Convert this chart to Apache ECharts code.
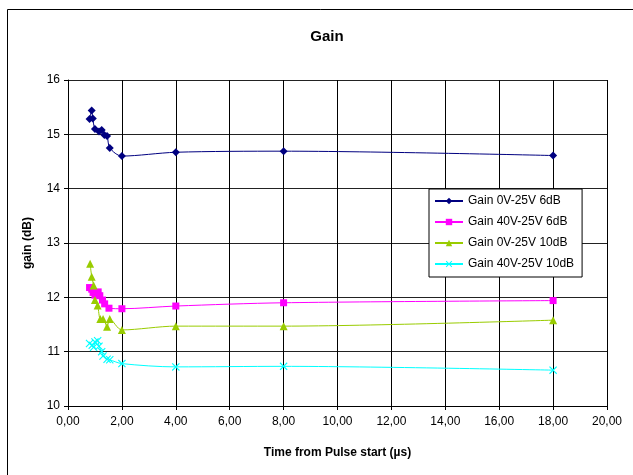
<!DOCTYPE html>
<html>
<head>
<meta charset="utf-8">
<script src="https://cdn.jsdelivr.net/npm/echarts@6/dist/echarts.min.js"></script>
<style>
html,body{margin:0;padding:0;background:#fff;}
#c{width:633px;height:475px;}
</style>
</head>
<body>
<div id="c"></div>
<script>
var seriesNames = ['Gain 0V-25V 6dB', 'Gain 40V-25V 6dB', 'Gain 0V-25V 10dB', 'Gain 40V-25V 10dB'];

var time1 = [0.8, 0.88, 0.92, 1.0, 1.15, 1.25, 1.35, 1.45, 1.55, 2, 4, 8, 18];
var gain1 = [15.28, 15.44, 15.29, 15.1, 15.05, 15.08, 14.99, 14.97, 14.75, 14.6, 14.67, 14.69, 14.61];

var time2 = [0.8, 0.88, 0.93, 1.0, 1.12, 1.18, 1.28, 1.36, 1.52, 2, 4, 8, 18];
var gain2 = [12.18, 12.15, 12.09, 12.04, 12.1, 12.03, 11.95, 11.88, 11.8, 11.79, 11.84, 11.9, 11.94];

var time3 = [0.82, 0.88, 0.95, 1.0, 1.1, 1.2, 1.3, 1.45, 1.55, 2, 4, 8, 18];
var gain3 = [12.62, 12.38, 12.22, 11.95, 11.85, 11.6, 11.6, 11.46, 11.6, 11.4, 11.47, 11.47, 11.58];

var time4 = [0.8, 0.9, 0.95, 1.0, 1.1, 1.15, 1.25, 1.3, 1.45, 1.55, 2, 4, 8, 18];
var gain4 = [11.15, 11.12, 11.08, 11.18, 11.2, 11.1, 11.0, 10.92, 10.86, 10.85, 10.78, 10.72, 10.73, 10.66];

var xTicks = {min: 0, max: 20, interval: 2};
var yTicks = {min: 10, max: 16, interval: 1};

function pairs(xs, ys) { return xs.map(function (x, i) { return [x, ys[i]]; }); }

var colors = ['#000080', '#FF00FF', '#99CC00', '#00FFFF'];
var symbols = ['diamond', 'rect', 'triangle',
  'path://M0,1L1,0L5,4L9,0L10,1L6,5L10,9L9,10L5,6L1,10L0,9L4,5Z'];
var sizes = [8, 7, 8, 8];
var datasets = [pairs(time1, gain1), pairs(time2, gain2), pairs(time3, gain3), pairs(time4, gain4)];

var font = 'Liberation Sans, Arial, sans-serif';
var chart = echarts.init(document.getElementById('c'), null, {renderer: 'canvas'});
chart.setOption({
  backgroundColor: '#fff',
  animation: false,
  graphic: [{
    type: 'rect', left: 5, top: 7, silent: true,
    shape: {width: 660, height: 500},
    style: {fill: 'none', stroke: '#000', lineWidth: 1}
  }],
  title: {
    text: 'Gain', left: 322, top: 24, textAlign: 'center',
    textStyle: {fontFamily: font, fontSize: 15, fontWeight: 'bold', color: '#000'}
  },
  legend: {
    orient: 'vertical', left: 429, top: 189,
    itemWidth: 28, itemHeight: 8, itemGap: 9,
    padding: [6, 8, 7, 5],
    borderColor: '#000', borderWidth: 1, backgroundColor: '#fff',
    textStyle: {fontFamily: font, fontSize: 12, color: '#000'},
    data: seriesNames
  },
  grid: {left: 68, right: 26, top: 80, bottom: 69, containLabel: false},
  xAxis: {
    type: 'value', min: xTicks.min, max: xTicks.max, interval: xTicks.interval,
    name: 'Time from Pulse start (\u00b5s)', nameLocation: 'middle', nameGap: 41,
    nameTextStyle: {fontFamily: font, fontSize: 12, fontWeight: 'bold', color: '#000'},
    axisLine: {show: true, lineStyle: {color: '#000'}},
    axisTick: {show: true, length: 4, lineStyle: {color: '#000'}},
    axisLabel: {fontFamily: font, fontSize: 12, color: '#000', margin: 10,
      formatter: function (v) { return v.toFixed(2).replace('.', ','); }},
    splitLine: {show: true, lineStyle: {color: '#000', width: 1}}
  },
  yAxis: {
    type: 'value', min: yTicks.min, max: yTicks.max, interval: yTicks.interval,
    name: 'gain (dB)', nameLocation: 'middle', nameGap: 34, nameRotate: 90,
    nameTextStyle: {fontFamily: font, fontSize: 12, fontWeight: 'bold', color: '#000'},
    axisLine: {show: true, lineStyle: {color: '#000'}},
    axisTick: {show: true, length: 4, lineStyle: {color: '#000'}},
    axisLabel: {fontFamily: font, fontSize: 12, color: '#000', margin: 8},
    splitLine: {show: true, lineStyle: {color: '#222', width: 1}}
  },
  series: seriesNames.map(function (n, i) {
    return {
      name: n, type: 'line', data: datasets[i],
      smooth: 0.3,
      symbol: symbols[i], symbolSize: sizes[i], showSymbol: true,
      lineStyle: {color: colors[i], width: 1},
      itemStyle: {color: colors[i]}
    };
  })
});
</script>
</body>
</html>
